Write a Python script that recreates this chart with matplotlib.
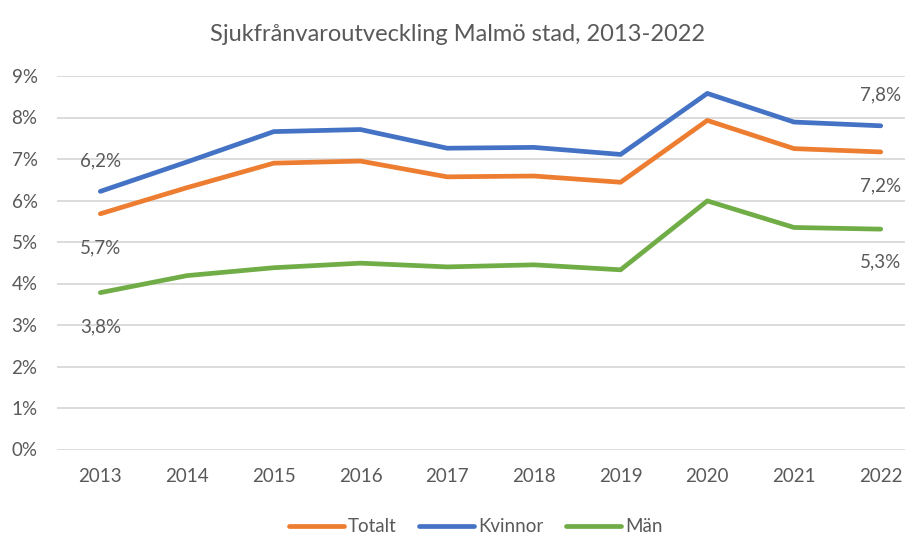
import matplotlib.pyplot as plt
from matplotlib.ticker import FuncFormatter

plt.rcParams['font.family'] = ['Lato', 'DejaVu Sans']

# Data (percent)
years = ['2013', '2014', '2015', '2016', '2017', '2018', '2019', '2020', '2021', '2022']
totalt = [5.68, 6.31, 6.90, 6.95, 6.57, 6.59, 6.44, 7.93, 7.25, 7.17]
kvinnor = [6.22, 6.93, 7.66, 7.71, 7.26, 7.28, 7.11, 8.58, 7.89, 7.80]
man = [3.78, 4.19, 4.38, 4.49, 4.40, 4.45, 4.33, 5.99, 5.35, 5.31]

text_color = '#595959'
grid_color = '#D9D9D9'

fig = plt.figure(figsize=(9.15, 5.36), dpi=100)
ax = fig.add_axes([57 / 915, 1 - 449.5 / 536, 848 / 915, (449.5 - 76) / 536])

x = list(range(len(years)))
series = [
    ('Totalt', totalt, '#ED7D31'),
    ('Kvinnor', kvinnor, '#4472C4'),
    ('Män', man, '#70AD47'),
]
for name, vals, color in series:
    ax.plot(x, vals, color=color, lw=3.4, solid_capstyle='round',
            solid_joinstyle='round', label=name, zorder=3)

# Data labels on first and last points (pixel offsets below the point)
label_offsets = {'Totalt': (34, 34), 'Kvinnor': (-30, -31), 'Män': (34, 33)}
for name, vals, color in series:
    off_first, off_last = label_offsets[name]
    for i, off in ((0, off_first), (len(vals) - 1, off_last)):
        txt = f'{vals[i]:.1f}'.replace('.', ',') + '%'
        ax.annotate(txt, (x[i], vals[i]), xytext=(0, -off * 0.72),
                    textcoords='offset points', ha='center', va='center',
                    fontsize=13.5, color=text_color)

ax.set_xlim(-0.5, 9.28)
ax.set_ylim(0, 9)
ax.set_yticks(range(0, 10))
ax.yaxis.set_major_formatter(FuncFormatter(lambda v, p: f'{int(v)}%'))
ax.set_xticks(x)
ax.set_xticklabels(years)
ax.grid(axis='y', color=grid_color, lw=1.3)
ax.set_axisbelow(True)
for s in ax.spines.values():
    s.set_visible(False)
ax.tick_params(length=0, labelsize=13.5, labelcolor=text_color)
ax.tick_params(axis='x', pad=13)
ax.tick_params(axis='y', pad=14)

fig.suptitle('Sjukfrånvaroutveckling Malmö stad, 2013-2022', y=0.955,
             fontsize=17, color=text_color)

ax.legend(loc='center', bbox_to_anchor=(0.5 - 5 / 848, -(527 - 449.5) / (449.5 - 76)),
          ncol=3, frameon=False, fontsize=13.5, labelcolor=text_color,
          handlelength=2.9, handletextpad=0.25, columnspacing=1.2)

fig.savefig('out.png', dpi=100)
